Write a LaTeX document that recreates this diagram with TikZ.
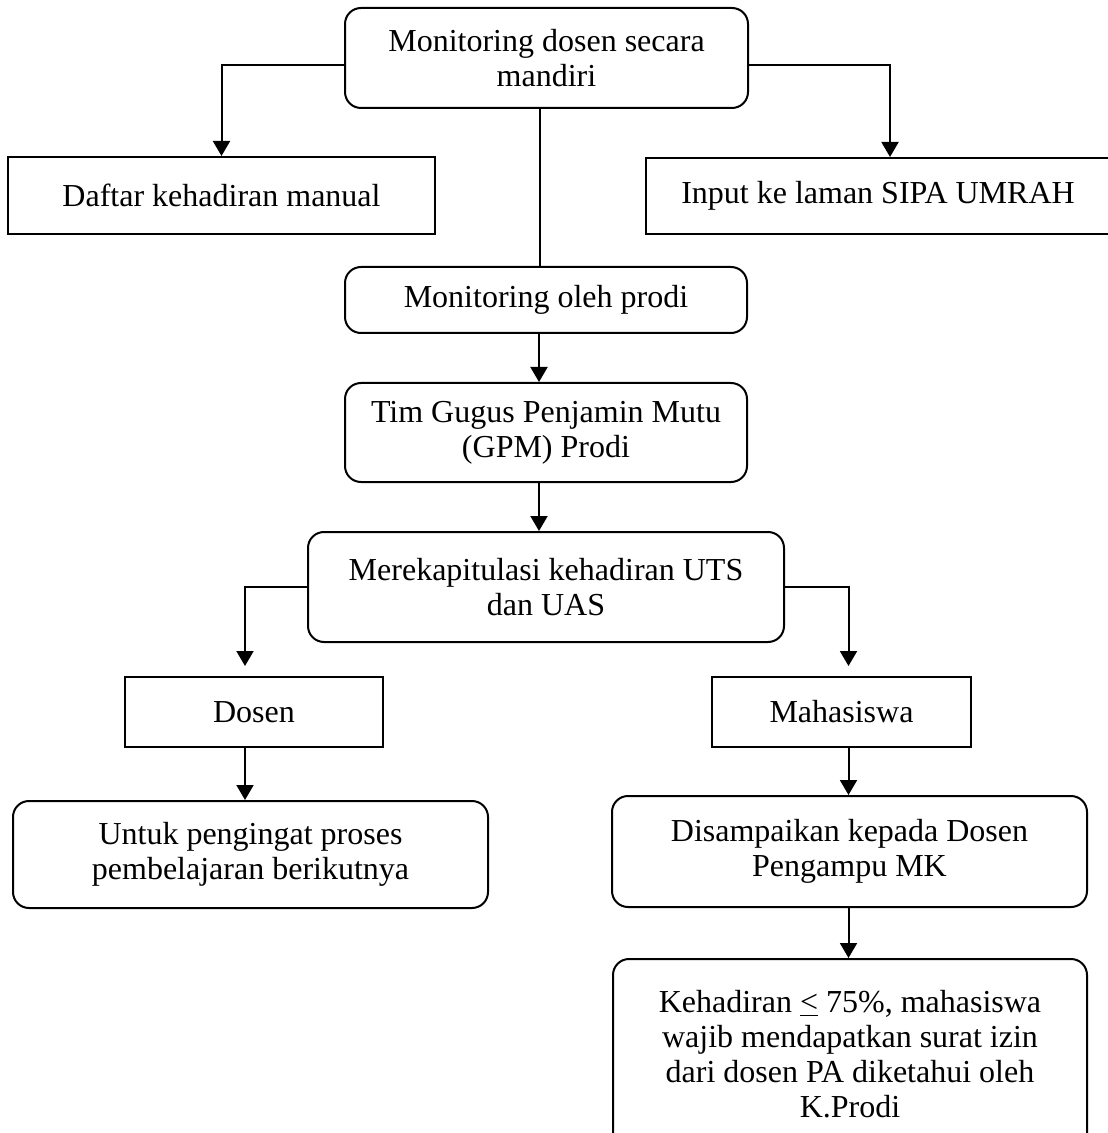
\documentclass[tikz,border=0pt]{standalone}
\usepackage{fontspec}
\setmainfont{Liberation Serif}
\usepackage{tikz}
\usetikzlibrary{arrows.meta,positioning}
\tikzset{
  kotak/.style={draw=black, line width=1pt, align=center, inner sep=0pt, font=\fontsize{16}{17.5}\selectfont},
  kotakbulat/.style={kotak, rounded corners=8pt},
  panah/.style={-{Triangle[length=7.5pt,width=8.5pt]}, line width=1pt},
  garis/.style={line width=1pt},
}

\begin{document}
\begin{tikzpicture}[x=0.5pt, y=-0.5pt, node distance=0mm]
\useasboundingbox (0,0) rectangle (1107,1133);
% Monitoring mandiri
\node[kotakbulat, minimum width=201.5pt, minimum height=50pt] (mandiri) at (546.5,58) {Monitoring dosen secara\\mandiri};
\node[kotak, minimum width=213.5pt, minimum height=38.5pt] (daftar) at (221.5,195.5) {Daftar kehadiran manual};
\node[kotak, minimum width=232pt, minimum height=38pt] (sipa) at (878,196) {Input ke laman SIPA UMRAH};

% Prodi dan GPM
\node[kotakbulat, minimum width=201pt, minimum height=33pt] (prodi) at (546,300) {Monitoring oleh prodi};
\node[kotakbulat, minimum width=201pt, minimum height=49.5pt, below=24pt of prodi] (gpm) {Tim Gugus Penjamin Mutu\\(GPM) Prodi};
\node[kotakbulat, minimum width=238pt, minimum height=55pt, below=24pt of gpm] (rekap) {Merekapitulasi kehadiran UTS\\dan UAS};

% Dosen
\node[kotak, minimum width=129pt, minimum height=35pt] (dosen) at (254,712) {Dosen};
\node[kotakbulat, minimum width=237.5pt, minimum height=53.5pt] (ingat) at (250.5,854.5) {Untuk pengingat proses\\pembelajaran berikutnya};

% Mahasiswa
\node[kotak, minimum width=129.5pt, minimum height=35pt] (mhs) at (841.5,712) {Mahasiswa};
\node[kotakbulat, minimum width=237.5pt, minimum height=55.5pt] (sampai) at (849.5,851.5) {Disampaikan kepada Dosen\\Pengampu MK};
\node[kotakbulat, minimum width=237pt, minimum height=95.5pt] (izin) at (850,1054.5) {Kehadiran \underline{<} 75\%, mahasiswa\\wajib mendapatkan surat izin\\dari dosen PA diketahui oleh\\K.Prodi};

% Panah
\draw[panah] ([yshift=-3.5pt]mandiri.west) -| (daftar.north);
\draw[panah] ([yshift=-3.5pt]mandiri.east) -| ([xshift=6pt]sipa.north);
\draw[garis] ([xshift=-3.5pt]mandiri.south) -- ([xshift=-3.5pt]mandiri.south |- prodi.north);
\draw[panah] ([xshift=-3.5pt]prodi.south) -- ([xshift=-3.5pt]prodi.south |- gpm.north);
\draw[panah] ([xshift=-3.5pt]gpm.south) -- ([xshift=-3.5pt]gpm.south |- rekap.north);
\draw[panah, shorten >=5pt] (rekap.west) -| ([xshift=-4.5pt]dosen.north);
\draw[panah, shorten >=5pt] (rekap.east) -| ([xshift=3.5pt]mhs.north);
\draw[panah] ([xshift=-4.5pt]dosen.south) -- ([xshift=-4.5pt]dosen.south |- ingat.north);
\draw[panah] ([xshift=3.5pt]mhs.south) -- ([xshift=3.5pt]mhs.south |- sampai.north);
\draw[panah] ([xshift=3.5pt]mhs.south |- sampai.south) -- ([xshift=3.5pt]mhs.south |- izin.north);
\end{tikzpicture}
\end{document}
